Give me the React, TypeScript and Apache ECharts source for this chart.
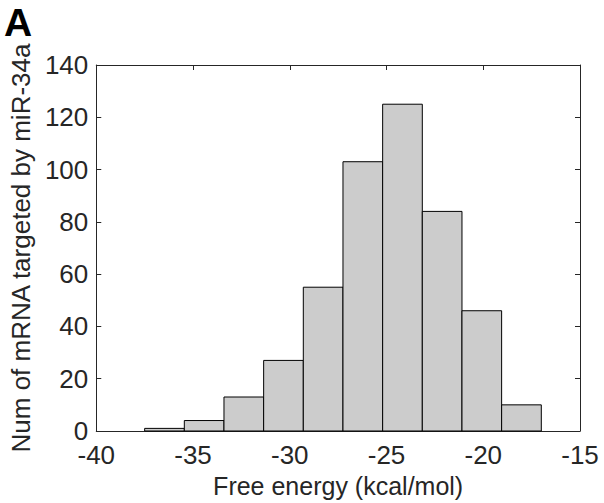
import React, { useEffect, useRef } from "react";
import * as echarts from "echarts";

const binEdges = [-37.5, -35.45, -33.4, -31.35, -29.3, -27.25, -25.2, -23.15, -21.1, -19.05, -17.0];
const counts = [1, 4, 13, 27, 55, 103, 125, 84, 46, 10];
const xTicks = { min: -40, max: -15, interval: 5 };
const yTicks = { min: 0, max: 140, interval: 20 };
const xTitle = "Free energy (kcal/mol)";
const yTitle = "Num of mRNA targeted by miR-34a";
const panelLabel = "A";

const FONT = "'Liberation Sans', Arial, Helvetica, sans-serif";
const INK = "#262626";

export default function App() {
  const ref = useRef<HTMLDivElement>(null);
  useEffect(() => {
    document.body.style.margin = "0";
    const chart = echarts.init(ref.current!, undefined, { renderer: "svg" });
    const data = counts.map((c, i) => [binEdges[i], binEdges[i + 1], c]);
    const axisCommon = {
      type: "value" as const,
      splitLine: { show: false },
      axisLine: { show: true, onZero: false, lineStyle: { color: INK, width: 1 } },
      axisTick: { show: true, inside: true, length: 5, lineStyle: { color: INK, width: 1 } },
    };
    chart.setOption({
      animation: false,
      backgroundColor: "#ffffff",
      grid: { left: 95, right: 24, top: 65, bottom: 72, containLabel: false },
      xAxis: [
        {
          ...axisCommon,
          ...xTicks,
          position: "bottom",
          name: xTitle,
          nameLocation: "middle",
          nameGap: 42,
          nameTextStyle: { fontFamily: FONT, fontSize: 25, color: INK },
          axisLabel: { fontFamily: FONT, fontSize: 26, lineHeight: 20, color: INK, margin: 14 },
        },
        {
          ...axisCommon,
          ...xTicks,
          position: "top",
          axisLabel: { show: false },
        },
      ],
      yAxis: [
        {
          ...axisCommon,
          ...yTicks,
          position: "left",
          name: yTitle,
          nameLocation: "middle",
          nameGap: 61,
          nameTextStyle: { fontFamily: FONT, fontSize: 26, color: INK },
          axisLabel: { fontFamily: FONT, fontSize: 26, lineHeight: 20, color: INK, margin: 8 },
        },
        {
          ...axisCommon,
          ...yTicks,
          position: "right",
          axisLabel: { show: false },
        },
      ],
      graphic: [
        {
          type: "text",
          left: 4,
          top: 3,
          style: { text: panelLabel, fontFamily: FONT, fontSize: 39, fontWeight: "bold", fill: "#000" },
        },
      ],
      series: [
        {
          type: "custom",
          xAxisIndex: 0,
          yAxisIndex: 0,
          data,
          encode: { x: [0, 1], y: 2 },
          renderItem: (params: any, api: any) => {
            const p0 = api.coord([api.value(0), 0]);
            const p1 = api.coord([api.value(1), api.value(2)]);
            return {
              type: "rect",
              shape: { x: p0[0], y: p1[1], width: p1[0] - p0[0], height: p0[1] - p1[1] },
              style: { fill: "#cccccc", stroke: "#000000", lineWidth: 1 },
            };
          },
        },
      ],
    });
    return () => chart.dispose();
  }, []);
  return <div ref={ref} style={{ width: 604, height: 503 }} />;
}
